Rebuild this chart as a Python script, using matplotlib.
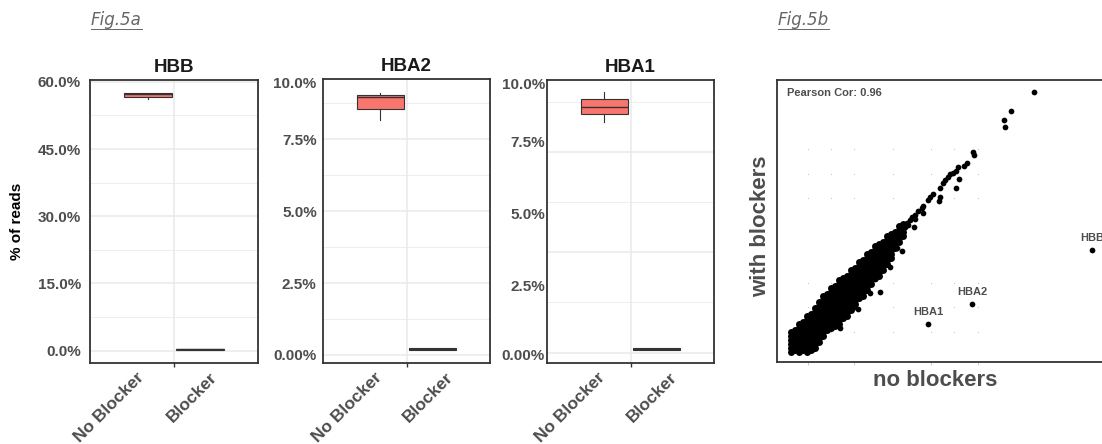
import numpy as np
import matplotlib
matplotlib.use('Agg')
import matplotlib.pyplot as plt
from matplotlib.lines import Line2D

plt.rcParams['font.family'] = ['Liberation Sans', 'DejaVu Sans']

# ---- Fig.5a : % of reads per condition (whislo, q1, median, q3, whishi)
conditions = ['No Blocker', 'Blocker']
hbb_no_blocker = [56.1, 56.7, 57.3, 57.55, 57.6]
hbb_blocker = [0.15, 0.15, 0.3, 0.42, 0.42]
hba2_no_blocker = [8.17, 8.56, 8.96, 9.06, 9.13]
hba2_blocker = [0.16, 0.16, 0.20, 0.24, 0.24]
hba1_no_blocker = [8.11, 8.38, 8.63, 8.89, 9.13]
hba1_blocker = [0.16, 0.16, 0.20, 0.24, 0.24]

# ---- Fig.5b : bulk of genes, dense diagonal (x: no blockers, y: with blockers)
bulk_columns = [
    (1.4, [1.0, 1.4, 1.8, 2.2, 2.6, 3.0]),
    (1.8, [1.2, 1.6, 2.0, 2.4, 2.8, 3.2]),
    (2.2, [1.0, 1.4, 1.8, 2.2, 2.6, 3.0, 3.4, 3.8]),
    (2.6, [1.2, 1.6, 2.0, 2.4, 2.8, 3.2, 3.6, 4.0]),
    (3.0, [1.0, 1.4, 1.8, 2.2, 2.6, 3.0, 3.4, 3.8, 4.2, 4.6]),
    (3.4, [1.2, 1.6, 2.0, 2.4, 2.8, 3.2, 3.6, 4.0, 4.4, 4.8]),
    (3.8, [1.4, 1.8, 2.2, 2.6, 3.0, 3.4, 3.8, 4.2, 4.6, 5.0, 5.4]),
    (4.2, [2.0, 2.4, 2.8, 3.2, 3.6, 4.0, 4.4, 4.8, 5.2, 5.6, 6.0]),
    (4.6, [2.6, 3.0, 3.4, 3.8, 4.2, 4.6, 5.0, 5.4, 5.8, 6.2, 6.6]),
    (5.0, [3.2, 3.6, 4.0, 4.4, 4.8, 5.2, 5.6, 6.0, 6.4, 6.8]),
    (5.4, [3.4, 3.8, 4.2, 4.6, 5.0, 5.4, 5.8, 6.2, 6.6, 7.0, 7.4]),
    (5.8, [3.6, 4.0, 4.4, 4.8, 5.2, 5.6, 6.0, 6.4, 6.8, 7.2, 7.6]),
    (6.2, [3.8, 4.2, 4.6, 5.0, 5.4, 5.8, 6.2, 6.6, 7.0, 7.4, 7.8, 8.2]),
    (6.6, [4.4, 4.8, 5.2, 5.6, 6.0, 6.4, 6.8, 7.2, 7.6, 8.0, 8.4]),
    (7.0, [4.6, 5.0, 5.4, 5.8, 6.2, 6.6, 7.0, 7.4, 7.8, 8.2, 8.6]),
    (7.4, [5.2, 5.6, 6.0, 6.4, 6.8, 7.2, 7.6, 8.0, 8.4, 8.8, 9.2]),
    (7.8, [5.8, 6.2, 6.6, 7.0, 7.4, 7.8, 8.2, 8.6, 9.0, 9.4]),
    (8.2, [6.4, 6.8, 7.2, 7.6, 8.0, 8.4, 8.8, 9.2, 9.6, 10.0]),
    (8.6, [6.6, 7.0, 7.4, 7.8, 8.2, 8.6, 9.0, 9.4, 9.8, 10.2]),
    (9.0, [7.2, 7.6, 8.0, 8.4, 8.8, 9.2, 9.6, 10.0, 10.4, 10.8]),
    (9.4, [7.8, 8.2, 8.6, 9.0, 9.4, 9.8, 10.2, 10.6, 11.0]),
    (9.8, [8.4, 8.8, 9.2, 9.6, 10.0, 10.4, 10.8, 11.2, 11.6]),
    (10.2, [8.6, 9.0, 9.4, 9.8, 10.2, 10.6, 11.0, 11.4, 11.8]),
    (10.6, [9.2, 9.6, 10.0, 10.4, 10.8, 11.2, 11.6, 12.0]),
    (11.0, [9.8, 10.2, 10.6, 11.0, 11.4, 11.8, 12.2, 12.6]),
    (11.4, [10.4, 10.8, 11.2, 11.6, 12.0, 12.4, 12.8]),
    (11.8, [11.4, 11.8, 12.2, 12.6, 13.0]),
    (12.2, [12.0, 12.4, 12.8, 13.2, 13.6]),
    (12.6, [12.6, 13.0, 13.4, 13.8]),
]

# sparser genes along / off the diagonal
sparse_x = [3.6, 6.3, 7.8, 8.1, 9.3, 10.3, 9.8, 11.3, 12.0, 12.5, 11.6,
            12.8, 13.0, 13.1, 13.3, 13.5, 13.7, 13.8, 13.8, 14.1, 14.5, 14.6,
            14.6, 15.1, 15.3, 15.6, 16.2, 16.3, 16.3, 16.6, 16.8, 17.1, 17.3,
            17.6, 17.9, 18.1, 18.7, 19.0, 19.6, 19.7, 17.9, 18.2,
            22.7, 22.8, 23.4, 25.7]
sparse_y = [1.3, 3.4, 5.5, 5.3, 6.9, 7.0, 8.3, 9.5, 11.4, 11.1, 11.9,
            13.5, 13.9, 13.7, 14.2, 14.5, 13.5, 14.7, 14.3, 15.1, 15.4, 15.6,
            14.9, 16.2, 16.5, 16.8, 16.1, 16.5, 17.4, 17.9, 18.2, 18.5, 18.8,
            18.9, 19.1, 19.5, 19.6, 19.9, 21.0, 20.7, 17.4, 18.3,
            24.2, 23.5, 25.1, 27.0]

label_genes = ['HBA1', 'HBA2', 'HBB']
label_x = [15.1, 19.5, 31.5]
label_y = [3.8, 5.8, 11.2]
pearson_r = 0.96

W, H = 1102, 444
fig = plt.figure(figsize=(W / 100, H / 100), dpi=100)

GRID = '#EBEBEB'
DARK = '#333333'
GREY = '#4D4D4D'
SALMON = '#F8766D'
DOT = 17


def px_axes(x0, y0, x1, y1):
    return fig.add_axes([x0 / W, 1 - y1 / H, (x1 - x0) / W, (y1 - y0) / H])


def box_panel(ax, title, no_blk, blk, ylim, ticks, ticklabels, major, minor,
              ypad, lab_pos):
    stats = []
    for name, v in zip(conditions, [no_blk, blk]):
        stats.append(dict(label=name, whislo=v[0], q1=v[1], med=v[2],
                          q3=v[3], whishi=v[4], fliers=[]))
    ax.bxp(stats, positions=[0.8125, 1.1875], widths=0.34,
           patch_artist=True, showcaps=False,
           boxprops=dict(facecolor=SALMON, edgecolor=DARK, linewidth=0.8),
           medianprops=dict(color=DARK, linewidth=1.0),
           whiskerprops=dict(color=DARK, linewidth=0.8), zorder=3)
    for g in major:
        ax.axhline(g, color=GRID, lw=1.2, zorder=0)
    for g in minor:
        ax.axhline(g, color=GRID, lw=0.6, zorder=0)
    ax.axvline(1.0, color=GRID, lw=1.2, zorder=0)
    ax.set_xlim(0.4, 1.6)
    ax.set_ylim(*ylim)
    ax.set_yticks(ticks)
    ax.set_yticklabels(ticklabels)
    ax.tick_params(axis='y', length=0, pad=ypad, labelsize=11,
                   labelcolor=GREY)
    ax.set_xticks(lab_pos)
    ax.set_xticklabels(conditions, rotation=45, ha='right',
                       rotation_mode='anchor')
    ax.tick_params(axis='x', which='major', length=0, pad=5, labelsize=12.5,
                   labelcolor=GREY)
    ax.set_xticks([1.0], minor=True)
    ax.tick_params(axis='x', which='minor', length=3, color=DARK, width=1)
    for lab in ax.get_xticklabels() + ax.get_yticklabels():
        lab.set_fontweight('bold')
    for s in ax.spines.values():
        s.set_color(DARK)
        s.set_linewidth(1.3)
    ax.set_title(title, fontsize=13.5, fontweight='bold', color='#1A1A1A',
                 pad=6)


ax1 = px_axes(90, 80, 258, 363)
box_panel(ax1, 'HBB', hbb_no_blocker, hbb_blocker, (-2.74, 60.4),
          [0, 15, 30, 45, 60], ['0.0%', '15.0%', '30.0%', '45.0%', '60.0%'],
          [0, 15, 30, 45, 60], [7.5, 22.5, 37.5, 52.5], 6.5, [0.73, 1.25])
ax1.set_ylabel('% of reads', fontsize=11, fontweight='bold', color='black')
ax1.yaxis.set_label_coords(-0.39, 0.5)

ax2 = px_axes(323, 79, 490, 363)
box_panel(ax2, 'HBA2', hba2_no_blocker, hba2_blocker, (-0.28, 9.6),
          [0, 2.5, 5, 7.5, 9.48], ['0.00%', '2.5%', '5.0%', '7.5%', '10.0%'],
          [0, 2.5, 5, 7.5], [1.25, 3.75, 6.25, 8.75], 4.5, [0.77, 1.28])

ax3 = px_axes(547, 80, 714, 363)
box_panel(ax3, 'HBA1', hba1_no_blocker, hba1_blocker, (-0.28, 9.56),
          [0, 2.43, 4.93, 7.42, 9.45], ['0.00%', '2.5%', '5.0%', '7.5%', '10.0%'],
          [0.08, 3.57, 7.07], [1.83, 5.31, 8.81], 1.5, [0.76, 1.28])

# ---- scatter panel (extends past the right edge, as in the source)
ax4 = px_axes(777, 80, 1115, 362)
bulk_x = [x for x, ys in bulk_columns for _ in ys]
bulk_y = [y for _, ys in bulk_columns for y in ys]
ax4.scatter(bulk_x, bulk_y, s=DOT + 8, c='black', linewidths=0, zorder=3)
ax4.scatter(sparse_x, sparse_y, s=DOT, c='black', linewidths=0, zorder=3)
ax4.scatter(label_x, label_y, s=DOT, c='black', linewidths=0, zorder=3)
for name, x, y in zip(label_genes, label_x, label_y):
    ax4.annotate(name, (x, y), xytext=(0, 8.5), textcoords='offset points',
                 ha='center', va='center', fontsize=8, fontweight='bold',
                 color=GREY)
ax4.set_xlim(0, 33.8)
ax4.set_ylim(0, 28.2)

# faint dotted grid (dots at the crossings)
gx = [3.07, 5.4, 7.73, 11.57, 15.4, 17.73, 20.13]
gy = [3.0, 5.5, 7.87, 16.4, 18.8, 21.27]
GX, GY = np.meshgrid(gx, gy)
ax4.scatter(GX.ravel(), GY.ravel(), s=0.6, c='#BBBBBB', linewidths=0,
            zorder=1)
ax4.set_xticks([3.07, 7.73, 15.4, 20.13])
ax4.set_xticklabels([])
ax4.set_yticks([])
ax4.tick_params(axis='x', length=2, color='#CCCCCC')
for s in ax4.spines.values():
    s.set_color(DARK)
    s.set_linewidth(1.3)
ax4.text(0.029, 0.955, 'Pearson Cor: %.2f' % pearson_r,
         transform=ax4.transAxes, ha='left', va='center', fontsize=8,
         fontweight='bold', color=GREY)
ax4.set_xlabel('no blockers', fontsize=16, fontweight='bold', color=GREY)
ax4.xaxis.set_label_coords(0.467, -0.03)
ax4.set_ylabel('with blockers', fontsize=16, fontweight='bold', color=GREY)
ax4.yaxis.set_label_coords(-0.018, 0.48)

# figure tags with underline
tags = []
for label, x in [('Fig.5a', 91), ('Fig.5b', 778)]:
    tags.append(fig.text(x / W, 1 - 25 / H, label, style='italic',
                         fontsize=12, color='#666666',
                         family='DejaVu Sans', va='baseline'))
fig.canvas.draw()
r = fig.canvas.get_renderer()
for t in tags:
    bb = t.get_window_extent(r)
    yl = (bb.y0 - 0.5) / H
    fig.add_artist(Line2D([bb.x0 / W, bb.x1 / W], [yl, yl],
                          transform=fig.transFigure, color='#666666', lw=0.7))

fig.savefig('out.png', dpi=100)
